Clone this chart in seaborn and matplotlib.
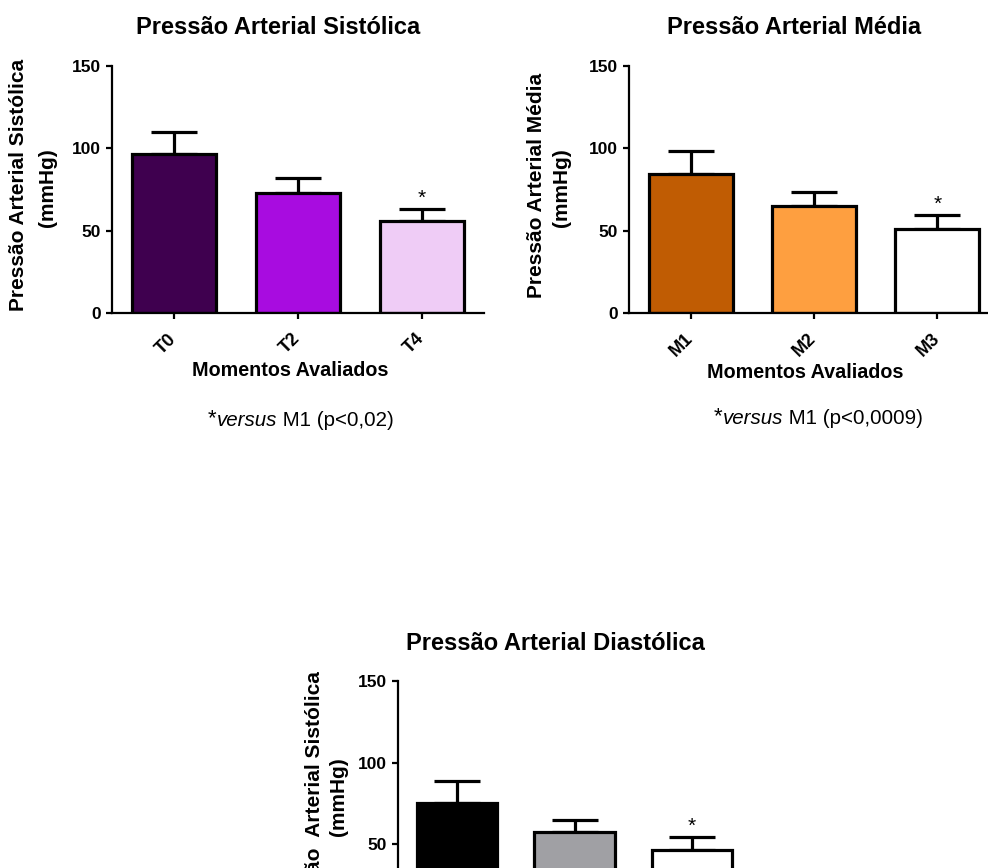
import numpy as np
import pandas as pd
import matplotlib
matplotlib.use("Agg")
import matplotlib.pyplot as plt
import matplotlib.transforms as mtransforms
import seaborn as sns

# Mean blood pressure per evaluated moment and the standard deviation (upper bar only)
sys_labels = ["T0", "T2", "T4"]
sys_means = [96.4, 72.7, 55.9]
sys_sd = [13.3, 9.5, 7.2]
sys_colors = ["#3f004f", "#a80ce0", "#efccf6"]

mean_labels = ["M1", "M2", "M3"]
mean_means = [84.4, 65.0, 51.2]
mean_sd = [14.1, 8.7, 8.3]
mean_colors = ["#c05c03", "#fe9f40", "#ffffff"]

dia_labels = ["M1", "M2", "M3"]
dia_means = [75.6, 57.3, 46.3]
dia_sd = [13.0, 7.3, 8.3]
dia_colors = ["#000000", "#a0a0a4", "#ffffff"]

# index of the bar that differs significantly from the first moment
sig_index = 2

yticks = [0, 50, 100, 150]

sns.set_style("ticks")
plt.rcParams["font.family"] = ["Liberation Sans", "DejaVu Sans"]
for key in ["text.color", "axes.labelcolor", "xtick.color", "ytick.color", "axes.edgecolor"]:
    plt.rcParams[key] = "black"

W, H = 988, 868
fig = plt.figure(figsize=(W / 100, H / 100), dpi=100)


def axes_px(left, right, top, bottom):
    return fig.add_axes([left / W, 1 - bottom / H, (right - left) / W, (bottom - top) / H])


def fx(x):
    return x / W


def fy(y):
    return 1 - y / H


def draw_panel(ax, labels, means, sd, colors, show_xticklabels=True, show_zero=True):
    df = pd.DataFrame({"momento": labels, "valor": means})
    sns.barplot(data=df, x="momento", y="valor", hue="momento", palette=colors,
                width=0.68, saturation=1, edgecolor="black", linewidth=2.3,
                legend=False, ax=ax, zorder=2)
    ax.errorbar(np.arange(len(means)), means, yerr=[np.zeros(len(sd)), sd],
                fmt="none", ecolor="black", elinewidth=2.3, capsize=16.5,
                capthick=2.3, zorder=1)
    top = means[sig_index] + sd[sig_index]
    ax.annotate("*", xy=(sig_index, top), xytext=(0, 1), textcoords="offset points",
                ha="center", va="bottom", fontsize=15, color="black")
    ax.set_ylim(0, 150)
    ax.set_xlim(-0.5, len(means) - 0.5)
    ax.set_yticks(yticks)
    ax.set_yticklabels([str(v) if (v != 0 or show_zero) else "" for v in yticks],
                       fontweight="bold")
    ax.set_xlabel("")
    ax.set_ylabel("")
    for s in ["top", "right"]:
        ax.spines[s].set_visible(False)
    for s in ["left", "bottom"]:
        ax.spines[s].set_linewidth(1.6)
        ax.spines[s].set_color("black")
    ax.tick_params(axis="both", direction="out", length=4.5, width=1.6,
                   color="black", labelsize=12.5)
    ax.tick_params(axis="x", pad=6)
    ax.set_xticks(range(len(labels)))
    if show_xticklabels:
        ax.set_xticklabels(labels, rotation=45, ha="right", fontweight="bold", fontsize=13)
        shift = mtransforms.ScaledTranslation(4 / 72, -2 / 72, fig.dpi_scale_trans)
        for lab in ax.get_xticklabels():
            lab.set_transform(lab.get_transform() + shift)
    else:
        ax.set_xticklabels([])


def caption(ax, x, y, rest):
    t1 = fig.text(fx(x), fy(y), "*", fontsize=16, ha="left", va="baseline")
    t2 = ax.annotate("versus", xy=(1, 0.15), xycoords=t1, ha="left", va="baseline",
                     fontsize=14.8, style="italic", annotation_clip=False)
    ax.annotate(rest, xy=(1, 0), xycoords=t2, ha="left", va="bottom",
                fontsize=14.8, annotation_clip=False)


# Systolic pressure
ax1 = axes_px(112, 484, 66, 313)
draw_panel(ax1, sys_labels, sys_means, sys_sd, sys_colors)
fig.text(fx(278), fy(28), "Pressão Arterial Sistólica", ha="center", va="center",
         fontsize=17, fontweight="bold")
fig.text(fx(19), fy(185), "Pressão Arterial Sistólica", rotation=90, ha="center",
         va="center", fontsize=15, fontweight="bold")
fig.text(fx(47), fy(188), "(mmHg)", rotation=90, ha="center", va="center",
         fontsize=15, fontweight="bold")
fig.text(fx(290), fy(370), "Momentos Avaliados", ha="center", va="center",
         fontsize=14.2, fontweight="bold")
caption(ax1, 208, 424, " M1 (p<0,02)")

# Mean pressure
ax2 = axes_px(629, 999, 66, 313)
draw_panel(ax2, mean_labels, mean_means, mean_sd, mean_colors)
fig.text(fx(794), fy(28), "Pressão Arterial Média", ha="center", va="center",
         fontsize=17, fontweight="bold")
fig.text(fx(536), fy(185), "Pressão Arterial Média", rotation=90, ha="center",
         va="center", fontsize=15, fontweight="bold")
fig.text(fx(562), fy(188), "(mmHg)", rotation=90, ha="center", va="center",
         fontsize=15, fontweight="bold")
fig.text(fx(805), fy(372), "Momentos Avaliados", ha="center", va="center",
         fontsize=14.2, fontweight="bold")
caption(ax2, 714, 422, " M1 (p<0,0009)")

# Diastolic pressure (lower part runs past the bottom edge of the canvas)
ax3 = axes_px(398, 751, 681, 926)
draw_panel(ax3, dia_labels, dia_means, dia_sd, dia_colors,
           show_xticklabels=False, show_zero=False)
fig.text(fx(555), fy(643), "Pressão Arterial Diastólica", ha="center", va="center",
         fontsize=17, fontweight="bold")
fig.text(fx(315), fy(800), "Pressão  Arterial Sistólica", rotation=90, ha="center",
         va="center", fontsize=15, fontweight="bold")
fig.text(fx(338), fy(797), "(mmHg)", rotation=90, ha="center", va="center",
         fontsize=15, fontweight="bold")

fig.savefig("out.png", dpi=100, facecolor="white")
